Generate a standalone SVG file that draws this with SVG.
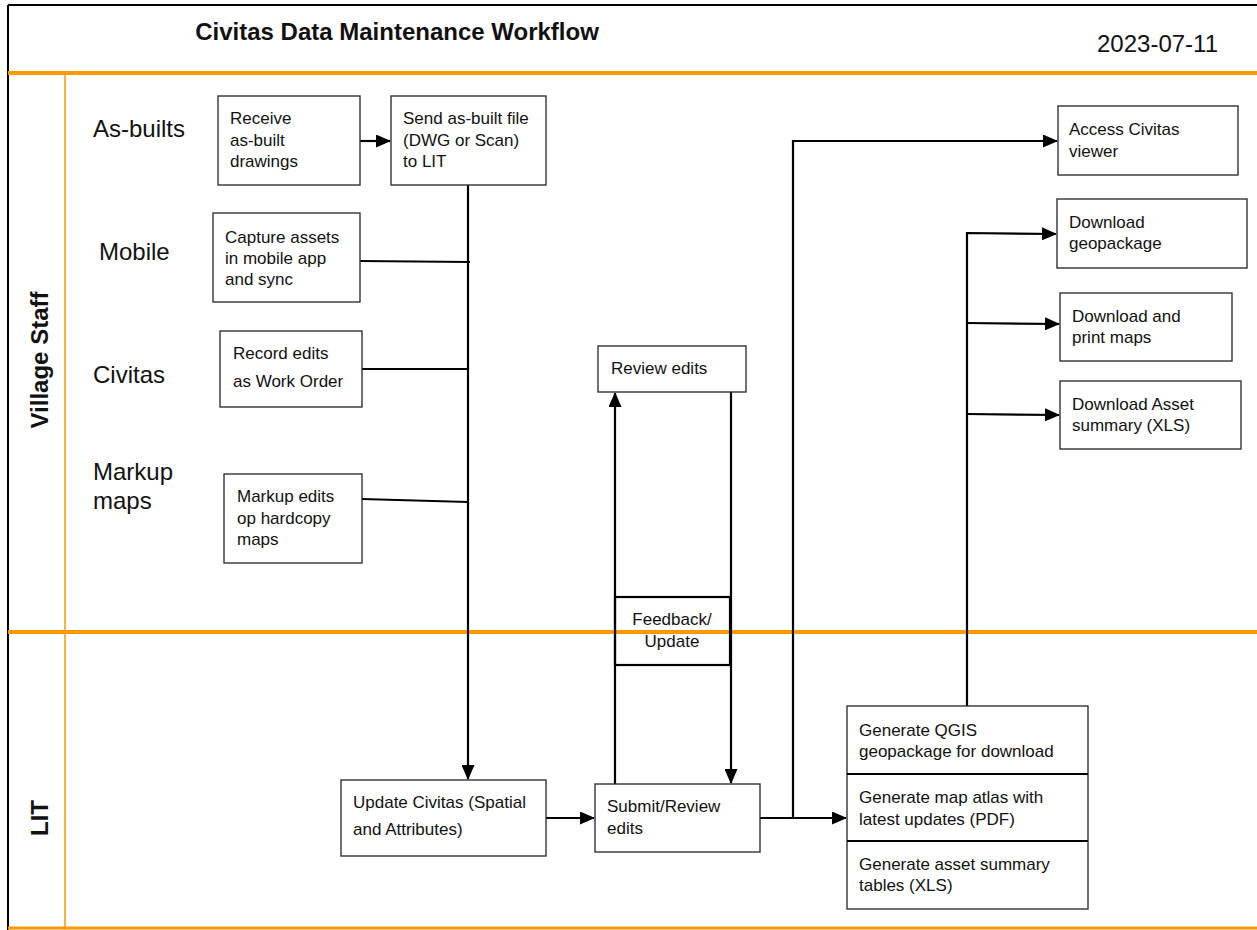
<svg xmlns="http://www.w3.org/2000/svg" width="1257" height="930" viewBox="0 0 1257 930">
<style>
text{font-family:"Liberation Sans",Arial,sans-serif;fill:#111}
.bt{font-size:17px}
.lane{font-size:24px}
.box{fill:#fff;stroke:#333;stroke-width:1.4}
.c{fill:none;stroke:#000;stroke-width:2.2}
.or{stroke:#FF9900;fill:none}
</style>
<defs>
<marker id="ah" markerWidth="15" markerHeight="13" refX="14" refY="6.5" orient="auto" markerUnits="userSpaceOnUse">
<path d="M0,0 L15,6.5 L0,13 Z" fill="#000"/>
</marker>
</defs>
<rect x="0" y="0" width="1257" height="930" fill="#fff"/>
<g id="frame">
<line x1="8" y1="5" x2="1257" y2="5" stroke="#000" stroke-width="2"/>
<line x1="8" y1="5" x2="8" y2="930" stroke="#000" stroke-width="2"/>
<line class="or" x1="8" y1="73" x2="1257" y2="73" stroke-width="4"/>
<line class="or" x1="8" y1="632" x2="1257" y2="632" stroke-width="4"/>
<line class="or" x1="8" y1="928" x2="1257" y2="928" stroke-width="3"/>
<line class="or" x1="65" y1="73" x2="65" y2="930" stroke-width="1.5"/>
<text x="397" y="40" text-anchor="middle" font-size="24" font-weight="bold">Civitas Data Maintenance Workflow</text>
<text x="1218" y="52" text-anchor="end" font-size="24">2023-07-11</text>
<text transform="translate(48,360) rotate(-90)" text-anchor="middle" font-size="24" font-weight="bold">Village Staff</text>
<text transform="translate(48,818) rotate(-90)" text-anchor="middle" font-size="24" font-weight="bold">LIT</text>
<text class="lane" x="93" y="137">As-builts</text>
<text class="lane" x="99" y="260">Mobile</text>
<text class="lane" x="93" y="383">Civitas</text>
<text class="lane" x="93" y="480">Markup</text>
<text class="lane" x="93" y="509">maps</text>
</g>
<g id="connectors">
<line class="c" x1="360" y1="141" x2="390" y2="141" marker-end="url(#ah)"/>
<line class="c" x1="468" y1="185" x2="468" y2="779" marker-end="url(#ah)"/>
<line class="c" x1="360" y1="261" x2="470" y2="262"/>
<line class="c" x1="362" y1="369" x2="467" y2="369"/>
<line class="c" x1="362" y1="499" x2="468" y2="502"/>
<line class="c" x1="546" y1="818" x2="594" y2="818" marker-end="url(#ah)"/>
<line class="c" x1="760" y1="818" x2="846" y2="818" marker-end="url(#ah)"/>
<polyline class="c" points="793,818 793,141 1057,141" marker-end="url(#ah)"/>
<line class="c" x1="615" y1="784" x2="615" y2="393" marker-end="url(#ah)"/>
<line class="c" x1="731" y1="392" x2="731" y2="783" marker-end="url(#ah)"/>
<polyline class="c" points="967,706 967,233 1056,234" marker-end="url(#ah)"/>
<line class="c" x1="967" y1="323" x2="1059" y2="324" marker-end="url(#ah)"/>
<line class="c" x1="967" y1="414" x2="1059" y2="415" marker-end="url(#ah)"/>
</g>
<g id="receive">
<rect class="box" x="218" y="96" width="142" height="89"/>
<text class="bt" x="230" y="124">Receive</text>
<text class="bt" x="230" y="146">as-built</text>
<text class="bt" x="230" y="167">drawings</text>
</g>
<g id="send">
<rect class="box" x="391" y="96" width="155" height="89"/>
<text class="bt" x="403" y="124">Send as-built file</text>
<text class="bt" x="403" y="146">(DWG or Scan)</text>
<text class="bt" x="403" y="167">to LIT</text>
</g>
<g id="capture">
<rect class="box" x="213" y="213" width="147" height="89"/>
<text class="bt" x="225" y="243">Capture assets</text>
<text class="bt" x="225" y="264">in mobile app</text>
<text class="bt" x="225" y="285">and sync</text>
</g>
<g id="record">
<rect class="box" x="220" y="331" width="142" height="76"/>
<text class="bt" x="233" y="359">Record edits</text>
<text class="bt" x="233" y="387">as Work Order</text>
</g>
<g id="markup">
<rect class="box" x="224" y="474" width="138" height="89"/>
<text class="bt" x="237" y="502">Markup edits</text>
<text class="bt" x="237" y="524">op hardcopy</text>
<text class="bt" x="237" y="545">maps</text>
</g>
<g id="review">
<rect class="box" x="598" y="346" width="148" height="46"/>
<text class="bt" x="611" y="374">Review edits</text>
</g>
<g id="feedback">
<rect x="615" y="597" width="115" height="68" fill="none" stroke="#000" stroke-width="2.2"/>
<text class="bt" x="672" y="625" text-anchor="middle">Feedback/</text>
<text class="bt" x="672" y="647" text-anchor="middle">Update</text>
</g>
<g id="update">
<rect class="box" x="341" y="780" width="205" height="76"/>
<text class="bt" x="353" y="808">Update Civitas (Spatial</text>
<text class="bt" x="353" y="835">and Attributes)</text>
</g>
<g id="submit">
<rect class="box" x="595" y="784" width="165" height="68"/>
<text class="bt" x="607" y="812">Submit/Review</text>
<text class="bt" x="607" y="834">edits</text>
</g>
<g id="generate">
<rect class="box" x="847" y="706" width="241" height="203"/>
<line x1="847" y1="774" x2="1088" y2="774" stroke="#000" stroke-width="2"/>
<line x1="847" y1="841" x2="1088" y2="841" stroke="#000" stroke-width="2"/>
<text class="bt" x="859" y="736">Generate QGIS</text>
<text class="bt" x="859" y="757">geopackage for download</text>
<text class="bt" x="859" y="803">Generate map atlas with</text>
<text class="bt" x="859" y="825">latest updates (PDF)</text>
<text class="bt" x="859" y="870">Generate asset summary</text>
<text class="bt" x="859" y="891">tables (XLS)</text>
</g>
<g id="access">
<rect class="box" x="1058" y="106" width="180" height="69"/>
<text class="bt" x="1069" y="135">Access Civitas</text>
<text class="bt" x="1069" y="157">viewer</text>
</g>
<g id="dlgeo">
<rect class="box" x="1057" y="199" width="190" height="69"/>
<text class="bt" x="1069" y="228">Download</text>
<text class="bt" x="1069" y="249">geopackage</text>
</g>
<g id="dlprint">
<rect class="box" x="1060" y="293" width="172" height="68"/>
<text class="bt" x="1072" y="322">Download and</text>
<text class="bt" x="1072" y="343">print maps</text>
</g>
<g id="dlasset">
<rect class="box" x="1060" y="381" width="181" height="68"/>
<text class="bt" x="1072" y="410">Download Asset</text>
<text class="bt" x="1072" y="431">summary (XLS)</text>
</g>
</svg>
